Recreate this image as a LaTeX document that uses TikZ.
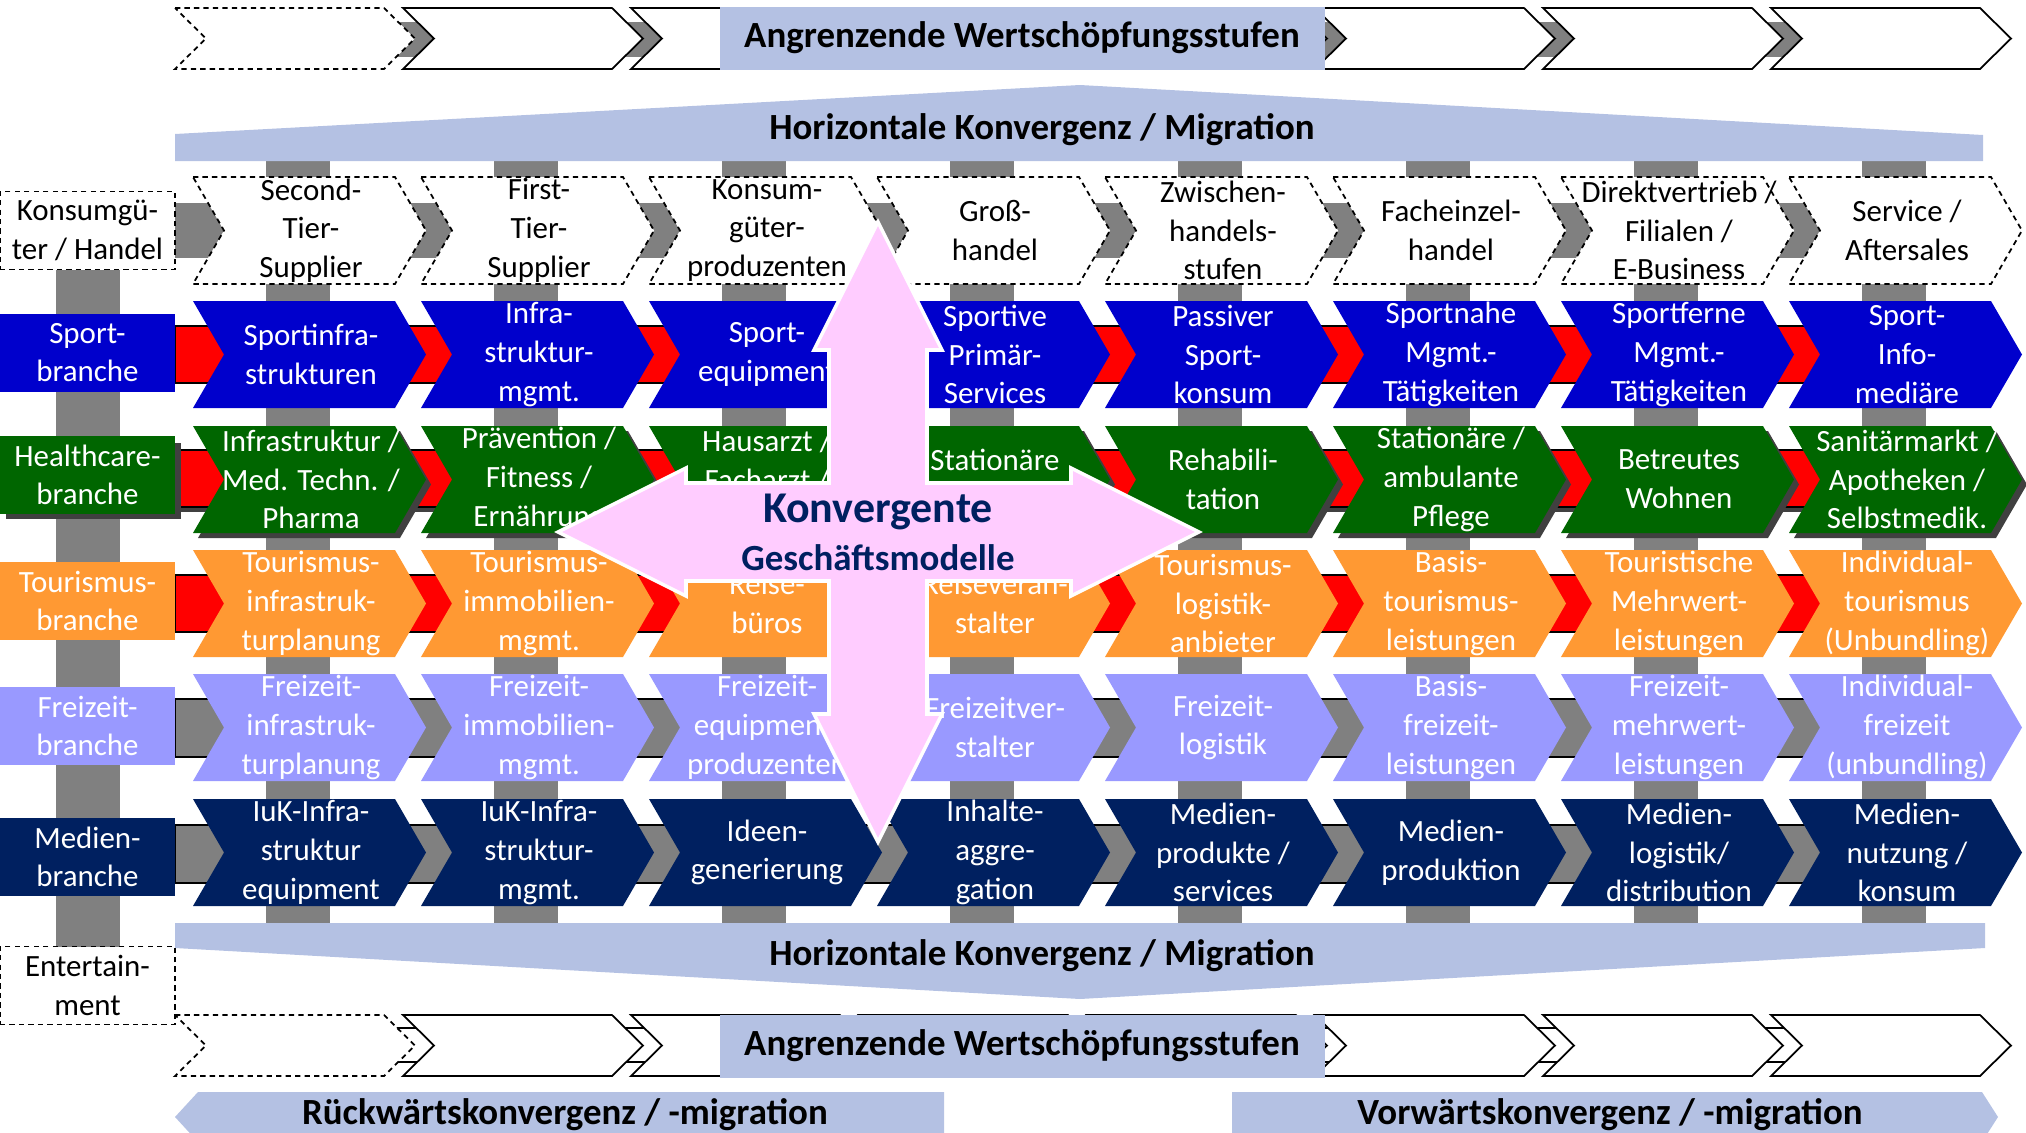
\documentclass[tikz,border=0pt]{standalone}
\usepackage{fontspec}
\setmainfont{Carlito}
\definecolor{sportblue}{RGB}{0,0,204}
\definecolor{caregreen}{RGB}{0,102,0}
\definecolor{tourorange}{RGB}{255,153,51}
\definecolor{freilila}{RGB}{153,153,255}
\definecolor{mediennavy}{RGB}{0,32,96}
\definecolor{bargray}{RGB}{128,128,128}
\definecolor{shadowgray}{RGB}{64,64,64}
\definecolor{bandblue}{RGB}{180,193,227}
\definecolor{crosspink}{RGB}{255,204,255}
% chevron: [style]{left}{top}{width}{height}
\newcommand{\chev}[5][]{%
  \path[#1] ({#2},{#3}) -- ++({#4-31},0) -- ++(31,{#5/2}) -- ++(-31,{#5/2})
    -- ++({31-#4},0) -- ++(31,{-#5/2}) -- cycle;}

\begin{document}
\begin{tikzpicture}[x=0.1mm,y=-0.1mm,
  cell/.style={text=white,align=center,inner sep=0pt,
    font=\fontsize{8.8}{11}\selectfont},
  lbl/.style={minimum width=17.5mm,minimum height=7.8mm,inner sep=0pt,
    align=center,font=\fontsize{8.8}{11}\selectfont},
  dashbox/.style={draw=black,fill=white,line width=0.5pt,
    dash pattern=on 1.5pt off 1.2pt},
  chainbox/.style={draw=black,fill=white,line width=0.5pt},
  link/.style={draw=black,line width=0.4pt},
  bandtext/.style={font=\fontsize{10.5}{12}\selectfont\bfseries},
  wsbox/.style={fill=bandblue,minimum width=60.5mm,minimum height=6.3mm,
    inner sep=0pt,font=\fontsize{10.5}{12}\selectfont\bfseries},
  cross/.style={fill=crosspink,draw=white,line width=1pt}
  ]
\useasboundingbox (0,0) rectangle (2026,1133);

% Vertical bars behind the stages
\foreach \i in {0,...,7} {\fill[bargray] ({266+228*\i},150) rectangle ++(64,780);}
\fill[bargray] (56,250) rectangle (120,960);

% Horizontal convergence bands
\fill[bandblue] (175,161) -- (175,134) -- (1080,85) -- (1983,135) -- (1983,161) -- cycle;
\fill[bandblue] (175,923) -- (1985,923) -- (1985,948) -- (1080,999) -- (175,948) -- cycle;
\node[bandtext] (hk-top) at (1042,130) {Horizontale Konvergenz / Migration};
\node[bandtext] (hk-bot) at (1042,956) {Horizontale Konvergenz / Migration};

% Links between the stages of each row
\fill[bargray] (175,203) rectangle (1990,258);
\path[link,fill=red] (175,326) rectangle (1990,383);
\fill[shadowgray] (175,452) rectangle (1990,512);
\path[link,fill=red] (175,450) rectangle (1990,507);
\path[link,fill=red] (175,575) rectangle (1990,632);
\path[link,fill=bargray] (175,699) rectangle (1990,757);
\path[link,fill=bargray] (175,825) rectangle (1990,883);

% Stages: header row
\foreach \txt [count=\i from 0] in {{Second-\\Tier-\\Supplier},{First-\\Tier-\\Supplier},
  {Konsum-\\güter-\\produzenten},{Groß-\\handel},{Zwischen-\\handels-\\stufen},
  {Facheinzel-\\handel},{Direktvertrieb /\\Filialen /\\E-Business},{Service /\\Aftersales}} {
  \chev[dashbox]{193+228*\i}{177}{233}{107}
  \node[cell,text=black] (hd-\i) at ({311+228*\i},230.5) {\txt};
}

% Sportbranche
\foreach \txt [count=\i from 0] in {{Sportinfra-\\strukturen},{Infra-\\struktur-\\mgmt.},
  {Sport-\\equipment},{Sportive\\Primär-\\Services},{Passiver\\Sport-\\konsum},
  {Sportnahe\\Mgmt.-\\Tätigkeiten},{Sportferne\\Mgmt.-\\Tätigkeiten},{Sport-\\Info-\\mediäre}} {
  \chev[fill=sportblue]{193+228*\i}{301}{233}{107}
  \node[cell] (sp-\i) at ({311+228*\i},354.5) {\txt};
}

% Healthcarebranche
\foreach \txt [count=\i from 0] in {{Infrastruktur /\\Med. Techn. /\\Pharma},
  {Prävention /\\Fitness /\\Ernährung},{Hausarzt /\\Facharzt /\\~},{Stationäre\\~},
  {Rehabili-\\tation},{Stationäre /\\ambulante\\Pflege},{Betreutes\\Wohnen},
  {Sanitärmarkt /\\Apotheken /\\Selbstmedik.}} {
  \chev[fill=shadowgray]{198+228*\i}{431}{233}{107}
  \chev[fill=caregreen]{193+228*\i}{426}{233}{107}
  \node[cell] (hc-\i) at ({311+228*\i},479.5) {\txt};
}

% Tourismusbranche
\foreach \txt [count=\i from 0] in {{Tourismus-\\infrastruk-\\turplanung},
  {Tourismus-\\immobilien-\\mgmt.},{Reise-\\büros},{Reiseveran-\\stalter},
  {Tourismus-\\logistik-\\anbieter},{Basis-\\tourismus-\\leistungen},
  {Touristische\\Mehrwert-\\leistungen},{Individual-\\tourismus\\(Unbundling)}} {
  \chev[fill=tourorange]{193+228*\i}{550}{233}{107}
  \node[cell] (tb-\i) at ({311+228*\i},603.5) {\txt};
}

% Freizeitbranche
\foreach \txt [count=\i from 0] in {{Freizeit-\\infrastruk-\\turplanung},
  {Freizeit-\\immobilien-\\mgmt.},{Freizeit-\\equipment-\\produzenten},{Freizeitver-\\stalter},
  {Freizeit-\\logistik},{Basis-\\freizeit-\\leistungen},{Freizeit-\\mehrwert-\\leistungen},
  {Individual-\\freizeit\\(unbundling)}} {
  \chev[fill=freilila]{193+228*\i}{674}{233}{107}
  \node[cell] (fb-\i) at ({311+228*\i},727.5) {\txt};
}

% Medienbranche
\foreach \txt [count=\i from 0] in {{IuK-Infra-\\struktur\\equipment},
  {IuK-Infra-\\struktur-\\mgmt.},{Ideen-\\generierung},{Inhalte-\\aggre-\\gation},
  {Medien-\\produkte /\\services},{Medien-\\produktion},{Medien-\\logistik/\\distribution},
  {Medien-\\nutzung /\\konsum}} {
  \chev[fill=mediennavy]{193+228*\i}{799}{233}{107}
  \node[cell] (mb-\i) at ({311+228*\i},852.5) {\txt};
}

% Labels on left
\node[lbl,dashbox] (lb-konsum) at (87.5,230.5) {Konsumgü-\\ter / Handel};
\node[lbl,fill=sportblue,text=white] (lb-sport) at (87.5,352.5) {Sport-\\branche};
\fill[shadowgray] (6,443) rectangle (181,519);
\node[lbl,fill=caregreen,text=white] (lb-care) at (87.5,475) {Healthcare-\\branche};
\node[lbl,fill=tourorange,text=white] (lb-tour) at (87.5,601) {Tourismus-\\branche};
\node[lbl,fill=freilila,text=white] (lb-frei) at (87.5,726) {Freizeit-\\branche};
\node[lbl,fill=mediennavy,text=white] (lb-medien) at (87.5,857) {Medien-\\branche};
\node[lbl,dashbox] (lb-enter) at (87.5,985.5) {Entertain-\\ment};

% Adjacent value chains, top and bottom
\fill[bargray] (380,22) rectangle (1990,57);
\chev[dashbox]{175}{8}{240}{61}
\foreach \i in {1,...,7} {\chev[chainbox]{175+228*\i}{8}{240}{61}}
\node[wsbox] (ws-top) at (1022,38) {Angrenzende Wertschöpfungsstufen};

\path[link,fill=white] (380,1028) rectangle (1990,1062);
\chev[dashbox]{175}{1015}{240}{61}
\foreach \i in {1,...,7} {\chev[chainbox]{175+228*\i}{1015}{240}{61}}
\node[wsbox] (ws-bot) at (1022,1046) {Angrenzende Wertschöpfungsstufen};

% Backward / forward convergence
\fill[bandblue] (198,1092) -- (944,1092) -- (944,1142) -- (198,1142) -- (175,1117) -- cycle;
\node[bandtext] (rk) at (565,1115) {Rückwärtskonvergenz / -migration};
\fill[bandblue] (1232,1092) -- (1982,1092) -- (1998,1117) -- (1982,1142) -- (1232,1142) -- cycle;
\node[bandtext] (vk) at (1610,1115) {Vorwärtskonvergenz / -migration};

% Convergent business models
\path[cross] (878,222) -- (942,350) -- (927,350) -- (927,483) -- (1071,483) -- (1071,468)
  -- (1199,532) -- (1071,596) -- (1071,581) -- (927,581) -- (927,714) -- (942,714)
  -- (878,842) -- (814,714) -- (829,714) -- (829,581) -- (686,581) -- (686,596)
  -- (558,532) -- (686,468) -- (686,483) -- (829,483) -- (829,350) -- (814,350) -- cycle;
\node[font=\fontsize{12.5}{14}\selectfont\bfseries,text=mediennavy] (kg-1) at (878,512) {Konvergente};
\node[font=\fontsize{10.5}{12}\selectfont\bfseries,text=mediennavy] (kg-2) at (878,558) {Geschäftsmodelle};

\end{tikzpicture}
\end{document}
